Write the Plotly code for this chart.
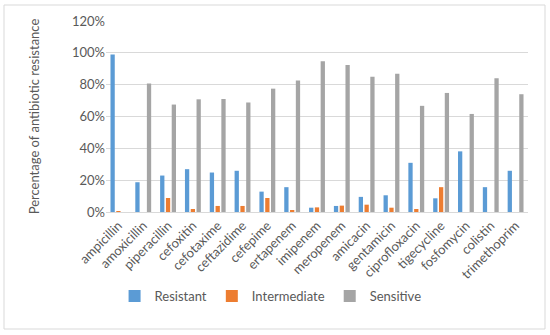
import plotly.graph_objects as go

categories = ["ampicillin", "amoxicillin", "piperacillin", "cefoxitin", "cefotaxime",
              "ceftazidime", "cefepime", "ertapenem", "imipenem", "meropenem",
              "amicacin", "gentamicin", "ciprofloxacin", "tigecycline", "fosfomycin",
              "colistin", "trimethoprim"]
resistant = [99, 18.7, 22.9, 26.9, 24.8, 25.9, 12.8, 15.6, 2.7, 3.8, 9.5, 10.5, 30.9, 8.6, 38.1, 15.6, 25.9]
intermediate = [0.5, 0, 8.8, 1.9, 3.8, 3.8, 8.8, 0.8, 2.9, 4.0, 4.6, 2.7, 1.9, 15.6, 0, 0, 0]
sensitive = [0, 80.7, 67.5, 70.8, 71.0, 68.8, 77.5, 82.6, 94.7, 92.4, 84.9, 86.8, 66.7, 74.8, 61.6, 84.0, 74.0]
tick_vals = [0, 20, 40, 60, 80, 100, 120]
tick_text = ["0%", "20%", "40%", "60%", "80%", "100%", "120%"]

FONT = "Lato"
GRAY = "#595959"

fig = go.Figure()
for name, vals, col in [("Resistant", resistant, "#5B9BD5"),
                        ("Intermediate", intermediate, "#ED7D31"),
                        ("Sensitive", sensitive, "#A5A5A5")]:
    fig.add_trace(go.Bar(name=name, x=categories, y=vals, marker_color=col,
                         marker_line_width=0))

fig.update_layout(
    width=550, height=335,
    margin=dict(l=106, r=22, t=21, b=123, autoexpand=False),
    paper_bgcolor="white", plot_bgcolor="white",
    barmode="group", bargap=0.3, bargroupgap=0.26,
    font=dict(family=FONT, color=GRAY, size=13),
    showlegend=True,
    legend=dict(orientation="h", x=0.39, xanchor="center", y=-0.44, yanchor="middle",
                font=dict(family=FONT, size=13, color=GRAY), itemwidth=30,
                tracegroupgap=0, traceorder="normal"),
    shapes=[dict(type="rect", xref="paper", yref="paper",
                 x0=-102/422, x1=(545-106)/422, y0=-(329-212)/191, y1=(212-5)/191,
                 line=dict(color="#D9D9D9", width=1), fillcolor="rgba(0,0,0,0)", layer="above")],
)
fig.update_xaxes(tickangle=-45, showgrid=False, showline=True, linecolor="#D9D9D9",
                 ticks="", automargin=False, tickfont=dict(family=FONT, size=13, color=GRAY))
fig.update_yaxes(range=[0, 120], tickvals=tick_vals, ticktext=tick_text,
                 showgrid=True, gridcolor="#D9D9D9", gridwidth=1, zeroline=False,
                 showline=False, ticks="", ticklen=0, automargin=False,
                 tickfont=dict(family=FONT, size=13, color=GRAY),
                 title=dict(text="Percentage of antibiotic resistance",
                            font=dict(family=FONT, size=13, color=GRAY), standoff=29))

fig.write_html("out.html", config={"displayModeBar": False},
               post_script="document.body.style.margin='0';")
